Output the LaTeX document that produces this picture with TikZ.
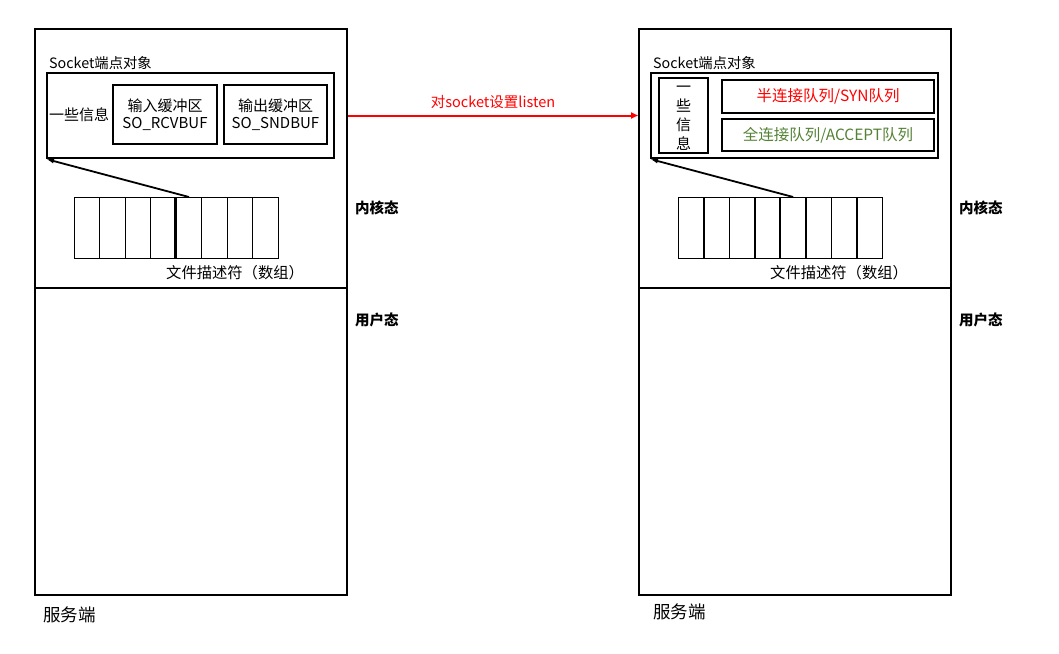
\documentclass[tikz,border=0pt]{standalone}
\usepackage{fontspec}
\setmainfont{Noto Sans CJK SC}
\usetikzlibrary{arrows.meta}
\definecolor{qgreen}{RGB}{84,130,53}
\begin{document}
\begin{tikzpicture}[x=1pt,y=-1pt,
  frame/.style={draw,line width=2pt,anchor=north west,inner sep=0pt},
  inbox/.style={draw,line width=2pt,anchor=north west,inner sep=0pt,align=center,font=\fontsize{15}{17.5}\selectfont},
  cell/.style={draw,line width=1.4pt,anchor=north west,inner sep=0pt,minimum width=25.5pt,minimum height=61pt},
  lbl/.style={anchor=west,inner sep=0pt,font=\fontsize{14.3}{16}\selectfont},
  side/.style={anchor=west,inner sep=0pt,font=\fontsize{14.5}{16}\selectfont\bfseries},
  srv/.style={anchor=west,inner sep=0pt,font=\fontsize{17.5}{19}\selectfont},
  ptr/.style={line width=1.8pt,-{Latex[length=8pt,width=5pt]}},
  listen/.style={red,line width=2pt,-{Triangle[length=7pt,width=6pt]}}
]
\useasboundingbox (0,0) rectangle (1059,653);

% ---------- left server ----------
\node[frame,minimum width=312pt,minimum height=259pt] (kernL) at (34,28) {};
\node[frame,minimum width=312pt,minimum height=307pt] (userL) at (34,287) {};
\node[lbl] (sockLtxt) at (49,63) {Socket端点对象};
\node[frame,minimum width=287pt,minimum height=85pt] (sockL) at (46,72) {};
\node[lbl,font=\fontsize{15}{17}\selectfont] (infoL) at (49,115) {一些信息};
\node[inbox,minimum width=104pt,minimum height=59pt] (rcv) at (112,84) {输入缓冲区\\SO\_RCVBUF};
\node[inbox,minimum width=103pt,minimum height=59pt] (snd) at (223,84) {输出缓冲区\\SO\_SNDBUF};
\foreach \i in {1,...,8}{
  \node[cell] (L\i) at ({73.5+(\i-1)*25.5},197) {};
}
\draw[line width=2.4pt] (L5.north west) -- (L5.south west);
\node[lbl,font=\fontsize{15.3}{17}\selectfont] (fdL) at (166,273) {文件描述符（数组）};
\draw[ptr] (L5.north) -- (sockL.south west);
\node[side] (kL) at (355,208) {内核态};
\node[side] (uL) at (355,320) {用户态};
\node[srv] (sL) at (43,615) {服务端};

% ---------- right server ----------
\node[frame,minimum width=312pt,minimum height=259pt] (kernR) at (638,28) {};
\node[frame,minimum width=312pt,minimum height=307pt] (userR) at (638,287) {};
\node[lbl] (sockRtxt) at (653,63) {Socket端点对象};
\node[frame,minimum width=287pt,minimum height=85pt] (sockR) at (650,72) {};
\node[inbox,minimum width=49pt,minimum height=75pt] (infoR) at (658,77) {};
\node[inner sep=0pt,align=center,font=\fontsize{15}{19}\selectfont] (infoRtxt) at ([yshift=-3pt]infoR.center) {一\\些\\信\\息};
\node[inbox,minimum width=212pt,minimum height=33pt,text=red,font=\fontsize{15.5}{17}\selectfont] (syn) at (721,79) {半连接队列/SYN队列};
\node[inbox,minimum width=212pt,minimum height=32pt,text=qgreen,font=\fontsize{15.5}{17}\selectfont] (acc) at (721,118) {全连接队列/ACCEPT队列};
\foreach \i in {1,...,8}{
  \node[cell] (R\i) at ({677.7+(\i-1)*25.5},197) {};
}
\draw[line width=2.4pt] (R5.north west) -- (R5.south west);
\node[lbl,font=\fontsize{15.3}{17}\selectfont] (fdR) at (770,273) {文件描述符（数组）};
\draw[ptr] (R5.north) -- (sockR.south west);
\node[side] (kR) at (959,208) {内核态};
\node[side] (uR) at (959,320) {用户态};
\node[srv] (sR) at (653,612) {服务端};

% ---------- listen arrow ----------
\draw[listen] (sockL.center -| kernL.east) -- node[above=6pt,inner sep=0pt,font=\fontsize{14.5}{16}\selectfont,text=red] (lst) {对socket设置listen} (sockL.center -| kernR.west);
\end{tikzpicture}
\end{document}
